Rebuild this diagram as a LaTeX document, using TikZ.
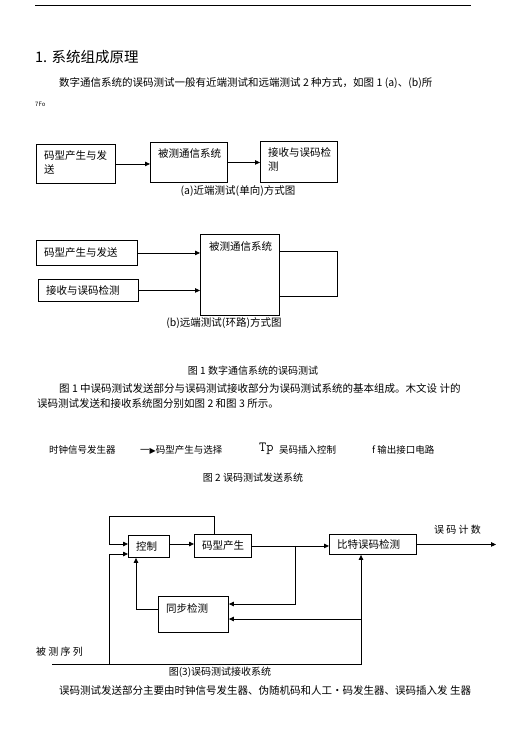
\documentclass[tikz,border=0pt]{standalone}
\usepackage{fontspec}
\setmainfont{Noto Sans CJK SC}
\newfontfamily\symfnt{DejaVu Sans}
\usetikzlibrary{positioning,arrows.meta}
\tikzset{
  blk/.style={draw, line width=0.9pt, anchor=north west, inner sep=0pt},
  intxt/.style={inner sep=0pt, align=left, font=\fontsize{10.5}{14}\selectfont},
  txt/.style={inner sep=0pt, anchor=west, font=\fontsize{10.5}{12}\selectfont},
  small/.style={inner sep=0pt, anchor=west, font=\fontsize{9.5}{11}\selectfont},
  capt/.style={inner sep=0pt, font=\fontsize{10.5}{12}\selectfont},
  ln/.style={line width=0.8pt},
  arr/.style={ln, -{Triangle[length=5pt,width=4.5pt]}},
}
\begin{document}
\begin{tikzpicture}[x=1pt, y=-1pt]
\useasboundingbox (0,0) rectangle (506,748);
\coordinate (ruleL) at (35,5);
\coordinate (ruleR) at (471,5);
\draw[line width=1pt] (ruleL) -- (ruleR);
\node[txt, font=\fontsize{14.5}{16}\selectfont] (head) at (35,57) {1. 系统组成原理};
\node[txt] (par1) at (59,83) {数字通信系统的误码测试一般有近端测试和远端测试 2 种方式，如图 1 (a)、(b)所};
\node[txt, font=\fontsize{6}{7}\selectfont] (par1b) at (35,104) {7Fo};
% (a)
\node[blk, minimum width=79pt, minimum height=39pt] (a1) at (36,144) {};
\node[intxt, below right=6pt and 8pt of a1.north west] (a1t) {码型产生与发\\送};
\node[blk, minimum width=77pt, minimum height=40pt] (a2) at (150,142) {};
\node[intxt, below right=6pt and 8pt of a2.north west] (a2t) {被测通信系统};
\node[blk, minimum width=77pt, minimum height=41pt] (a3) at (260,141) {};
\node[intxt, below right=6pt and 8pt of a3.north west] (a3t) {接收与误码检\\测};
\draw[arr] (a1.east) -- (a1.east -| a2.west);
\draw[arr] (a2.east) -- (a2.east -| a3.west);
\node[capt] (capa) at (238,191) {(a)近端测试(单向)方式图};
% (b)
\node[blk, minimum width=101pt, minimum height=25pt] (b1) at (36,240) {};
\node[intxt, below right=7pt and 8pt of b1.north west] (b1t) {码型产生与发送};
\node[blk, minimum width=100pt, minimum height=22pt] (b2) at (38,279) {};
\node[intxt, below right=6pt and 8pt of b2.north west] (b2t) {接收与误码检测};
\node[blk, minimum width=79pt, minimum height=81pt] (b3) at (200,234) {};
\node[intxt, below right=7pt and 9pt of b3.north west] (b3t) {被测通信系统};
\draw[arr] (b1.east) -- (b1.east -| b3.west);
\draw[arr] (b2.east) -- (b2.east -| b3.west);
\coordinate (lpa) at (337,251);
\coordinate (lpb) at (337,296);
\draw[ln] (b3.east |- lpa) -- (lpa) -- (lpb) -- (b3.east |- lpb);
\node[capt] (capb) at (224,323) {(b)远端测试(环路)方式图};
\node[capt, font=\fontsize{10}{12}\selectfont] (fig1) at (253,371) {图 1 数字通信系统的误码测试};
\node[txt] (par2) at (59,389) {图 1 中误码测试发送部分与误码测试接收部分为误码测试系统的基本组成。木文设 计的};
\node[txt] (par2b) at (37,404) {误码测试发送和接收系统图分别如图 2 和图 3 所示。};
% fig 2
\node[small] (clk) at (49,450) {时钟信号发生器};
\node[small] (sel) at (140,450) {一{\symfnt\fontsize{8}{9}\selectfont ▶}码型产生与选择};
\node[txt, font=\ttfamily\fontsize{14}{16}\selectfont] (tp) at (259,449) {Tp};
\node[small] (ins) at (279,450) {吴码插入控制};
\node[small] (outp) at (372,450) {f 输出接口电路};
\node[capt, font=\fontsize{10}{12}\selectfont] (fig2) at (253,478) {图 2 误码测试发送系统};
% fig 3
\node[blk, minimum width=41pt, minimum height=22pt] (ctl) at (128,535) {};
\node[intxt, below right=6pt and 8pt of ctl.north west] (ctlt) {控制};
\node[blk, minimum width=57pt, minimum height=23pt] (gen) at (194,534) {};
\node[intxt, below right=6pt and 8pt of gen.north west] (gent) {码型产生};
\node[blk, minimum width=87pt, minimum height=20pt] (ber) at (329,534) {};
\node[intxt, below right=5pt and 8pt of ber.north west] (bert) {比特误码检测};
\node[blk, minimum width=70pt, minimum height=36pt] (syn) at (158,596) {};
\node[intxt, below right=7pt and 8pt of syn.north west] (synt) {同步检测};
\node[txt, font=\fontsize{10}{12}\selectfont] (cnt) at (434,530) {误 码 计 数};
\node[txt, font=\fontsize{10}{12}\selectfont] (seq) at (36,652) {被 测 序 列};
\coordinate (outc) at (496,543);
\coordinate (brA) at (295,604);
\coordinate (inB) at (361,664);
\coordinate (brB) at (361,619);
\coordinate (seqL) at (52,664);
\coordinate (lft) at (109,664);
\coordinate (inLo) at (109,554);
\coordinate (inHi) at (109,544);
\coordinate (topL) at (109,516);
\coordinate (topR) at (214,516);
\coordinate (fbk) at (136,609);
\draw[arr] (ber.east) -- (ber.east -| outc);
\draw[arr] (gen.east) -- (gen.east -| ber.west);
\draw[arr] (gen.east -| brA) -- (brA) -- (brA -| syn.east);
\draw[arr] (seqL) -- (inB) -- (inB |- ber.south);
\draw[arr] (brB) -- (brB -| syn.east);
\draw[arr] (lft) -- (inLo) -- (inLo -| ctl.west);
\draw[arr] (gen.north -| topR) -- (topR) -- (topL) -- (inHi) -- (inHi -| ctl.west);
\draw[arr] (ctl.east |- inHi) -- (inHi -| gen.west);
\draw[arr] (syn.west |- fbk) -- (fbk) -- (fbk |- ctl.south);
\node[capt, font=\fontsize{10}{12}\selectfont] (fig3) at (220,672) {图(3)误码测试接收系统};
\node[txt] (par3) at (59,690) {误码测试发送部分主要由时钟信号发生器、伪随机码和人工•码发生器、误码插入发 生器};
\end{tikzpicture}
\end{document}
